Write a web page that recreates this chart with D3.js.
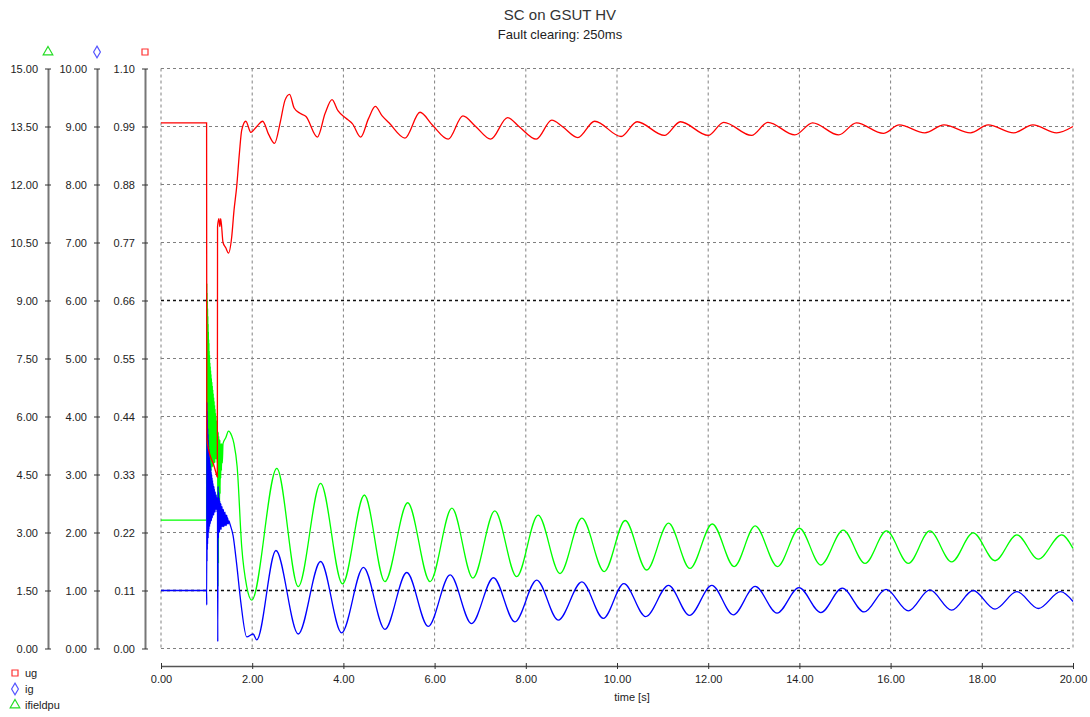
<!DOCTYPE html>
<html>
<head>
<meta charset="utf-8">
<script src="https://cdn.jsdelivr.net/npm/d3@7"></script>
<style>
  body { margin: 0; background: #fff; }
  svg { display: block; font-family: "Liberation Sans", Arial, sans-serif; }
  .tick text { font-size: 11px; fill: #222; }
</style>
</head>
<body>
<svg width="1090" height="717"></svg>
<script>
// time ticks and the three left axes
const timeTicks = [0, 2, 4, 6, 8, 10, 12, 14, 16, 18, 20]
const ifieldTicks = [0, 1.5, 3, 4.5, 6, 7.5, 9, 10.5, 12, 13.5, 15]
const igTicks = [0, 1, 2, 3, 4, 5, 6, 7, 8, 9, 10]
const ugTicks = [0, 0.11, 0.22, 0.33, 0.44, 0.55, 0.66, 0.77, 0.88, 0.99, 1.10]

// ug [p.u.] (red axis)
const ug = [
  [0, 0.997], [1.0, 0.997], [1.004, 0.40], [1.05, 0.375], [1.10, 0.36], [1.15, 0.35], [1.20, 0.335],
  [1.235, 0.325], [1.24, 0.80], [1.27, 0.815], [1.29, 0.80], [1.31, 0.815], [1.36, 0.77], [1.42, 0.76],
  [1.48, 0.75], [1.55, 0.78], [1.60, 0.83], [1.66, 0.876], [1.72, 0.94], [1.77, 0.983], [1.86, 1.0],
  [1.97, 0.979], [2.10, 0.99], [2.23, 1.0], [2.36, 0.975], [2.49, 0.958], [2.62, 1.0], [2.72, 1.04],
  [2.82, 1.051], [2.92, 1.025], [3.05, 1.015], [3.18, 1.009], [3.43, 0.97], [3.60, 1.015], [3.75, 1.041],
  [3.88, 1.02], [4.05, 1.006], [4.20, 0.995], [4.38, 0.97], [4.55, 1.005], [4.70, 1.028], [4.85, 1.01],
  [5.0, 0.997], [5.35, 0.968], [5.68, 1.017], [5.95, 0.993], [6.30, 0.966], [6.62, 1.01], [6.90, 0.99],
  [7.23, 0.966], [7.60, 1.007], [7.85, 0.99], [8.23, 0.966], [8.57, 1.002], [8.80, 0.99], [9.14, 0.969],
  [9.51, 1.0], [10.09, 0.971], [10.44, 0.999], [11.04, 0.973], [11.39, 0.999], [12.0, 0.973],
  [12.34, 0.998], [12.95, 0.973], [13.31, 0.998], [13.90, 0.974], [14.29, 0.997], [14.86, 0.974],
  [15.25, 0.997], [15.84, 0.977], [16.19, 0.993], [16.75, 0.978], [17.17, 0.993], [17.75, 0.978],
  [18.14, 0.993], [18.70, 0.978], [19.12, 0.993], [19.64, 0.978], [20.0, 0.99]
]

// ig [p.u.] (blue axis)
const ig = [
  [0, 1.0], [1.0, 1.0], [1.003, 0.75], [1.006, 4.25], [1.009, 1.5], [1.012, 4.1], [1.015, 1.7],
  [1.018, 3.95], [1.021, 1.8], [1.024, 3.8], [1.027, 1.9], [1.030, 3.7], [1.033, 1.9], [1.036, 3.6],
  [1.039, 2.0], [1.042, 3.5], [1.045, 2.0], [1.048, 3.45], [1.051, 2.05], [1.054, 3.4], [1.057, 2.1],
  [1.060, 3.3], [1.064, 2.1], [1.068, 3.25], [1.072, 2.15], [1.076, 3.2], [1.080, 2.15], [1.084, 3.15],
  [1.088, 2.2], [1.092, 3.1], [1.096, 2.2], [1.100, 3.05], [1.105, 2.2], [1.110, 3.0], [1.115, 2.25],
  [1.120, 2.95], [1.125, 2.25], [1.130, 2.9], [1.135, 2.3], [1.140, 2.85], [1.145, 2.3], [1.150, 2.8],
  [1.155, 2.3], [1.160, 2.8], [1.165, 2.35], [1.170, 2.75], [1.175, 2.35], [1.180, 2.7], [1.185, 2.35],
  [1.190, 2.7], [1.195, 2.4], [1.200, 2.65], [1.206, 2.4], [1.212, 2.65], [1.218, 2.4], [1.224, 2.6],
  [1.230, 2.35], [1.238, 2.6], [1.245, 0.12], [1.252, 2.8], [1.258, 1.9], [1.264, 2.7], [1.270, 2.0],
  [1.276, 2.6], [1.282, 2.0], [1.288, 2.55], [1.294, 2.05], [1.300, 2.5], [1.306, 2.05], [1.312, 2.5],
  [1.318, 2.05], [1.324, 2.45], [1.330, 2.1], [1.338, 2.45], [1.346, 2.1], [1.354, 2.4], [1.362, 2.1],
  [1.370, 2.4], [1.378, 2.1], [1.386, 2.35], [1.395, 2.12], [1.404, 2.35], [1.413, 2.12], [1.422, 2.3],
  [1.432, 2.12], [1.442, 2.3], [1.452, 2.15], [1.462, 2.25], [1.475, 2.15], [1.49, 2.2], [1.51, 2.15],
  [1.58, 1.95], [1.66, 1.45], [1.75, 0.8], [1.88, 0.2], [2.02, 0.25], [2.10, 0.15], [2.52, 1.69],
  [3.01, 0.25], [3.50, 1.50], [3.96, 0.27], [4.44, 1.40], [4.91, 0.33], [5.39, 1.31], [5.86, 0.38],
  [6.34, 1.27], [6.81, 0.43], [7.29, 1.22], [7.76, 0.46], [8.24, 1.18], [8.71, 0.49], [9.23, 1.15],
  [9.70, 0.52], [10.15, 1.12], [10.63, 0.55], [11.13, 1.09], [11.59, 0.57], [12.08, 1.09], [12.55, 0.58],
  [13.03, 1.07], [13.51, 0.61], [13.99, 1.05], [14.47, 0.62], [14.94, 1.04], [15.42, 0.63],
  [15.90, 1.02], [16.39, 0.65], [16.86, 1.01], [17.34, 0.66], [17.81, 1.00], [18.29, 0.68],
  [18.77, 0.98], [19.24, 0.69], [19.73, 0.98], [20.0, 0.81]
]

// ifieldpu (green axis)
const ifield = [
  [0, 3.32], [1.0, 3.32], [1.003, 9.45], [1.006, 4.5], [1.009, 9.2], [1.012, 4.4], [1.015, 9.0],
  [1.018, 4.5], [1.021, 8.8], [1.024, 4.4], [1.027, 8.6], [1.030, 4.5], [1.033, 8.4], [1.036, 4.5],
  [1.039, 8.2], [1.042, 4.5], [1.045, 8.0], [1.048, 4.6], [1.051, 7.9], [1.054, 4.5], [1.057, 7.7],
  [1.060, 4.6], [1.064, 7.6], [1.068, 4.5], [1.072, 7.4], [1.076, 4.6], [1.080, 7.3], [1.084, 4.6],
  [1.088, 7.2], [1.092, 4.6], [1.096, 7.1], [1.100, 4.6], [1.105, 7.0], [1.110, 4.7], [1.115, 6.9],
  [1.120, 4.7], [1.125, 6.8], [1.130, 4.7], [1.135, 6.7], [1.140, 4.7], [1.145, 6.6], [1.150, 4.8],
  [1.155, 6.5], [1.160, 4.8], [1.165, 6.4], [1.170, 4.8], [1.175, 6.3], [1.180, 4.8], [1.185, 6.2],
  [1.190, 4.9], [1.195, 6.1], [1.200, 4.9], [1.206, 6.0], [1.212, 4.9], [1.218, 5.9], [1.224, 4.9],
  [1.230, 5.8], [1.236, 4.8], [1.242, 5.6], [1.248, 1.6], [1.254, 5.6], [1.260, 2.2], [1.266, 5.5],
  [1.272, 3.0], [1.278, 5.4], [1.284, 3.6], [1.290, 5.4], [1.296, 4.0], [1.302, 5.3], [1.310, 4.4],
  [1.318, 5.3], [1.326, 4.6], [1.334, 5.3], [1.345, 4.8], [1.36, 5.3], [1.42, 5.45], [1.48, 5.62],
  [1.55, 5.5], [1.60, 5.3], [1.67, 4.7], [1.77, 2.63], [1.88, 1.6], [1.99, 1.25], [2.54, 4.66],
  [3.01, 1.60], [3.50, 4.27], [3.98, 1.67], [4.46, 3.97], [4.91, 1.73], [5.41, 3.77], [5.90, 1.73],
  [6.38, 3.63], [6.84, 1.82], [7.32, 3.56], [7.80, 1.86], [8.27, 3.45], [8.75, 1.94], [9.23, 3.37],
  [9.72, 1.99], [10.18, 3.31], [10.65, 2.03], [11.13, 3.24], [11.60, 2.07], [12.09, 3.22], [12.57, 2.12],
  [13.03, 3.17], [13.52, 2.12], [14.0, 3.11], [14.47, 2.16], [14.96, 3.06], [15.44, 2.20], [15.91, 3.04],
  [16.39, 2.20], [16.86, 3.04], [17.34, 2.24], [17.81, 2.99], [18.29, 2.27], [18.77, 2.94], [19.24, 2.31],
  [19.75, 2.94], [20.0, 2.59]
]

const svg = d3.select('svg')

const plotLeft = 161
const plotRight = 1073
const plotTop = 68.5
const plotBottom = 648.5

const x = d3.scaleLinear().domain([0, 20]).range([plotLeft, plotRight])
const yField = d3.scaleLinear().domain([0, 15]).range([plotBottom, plotTop])
const yIg = d3.scaleLinear().domain([0, 10]).range([plotBottom, plotTop])
const yUg = d3.scaleLinear().domain([0, 1.1]).range([plotBottom, plotTop])

// title
svg.append('text')
  .attr('x', 560).attr('y', 20)
  .attr('text-anchor', 'middle')
  .style('font-size', '15px').style('fill', '#333')
  .text('SC on GSUT HV')
svg.append('text')
  .attr('x', 560).attr('y', 39)
  .attr('text-anchor', 'middle')
  .style('font-size', '13px').style('fill', '#222')
  .text('Fault clearing: 250ms')

// grid
const grid = svg.append('g')
grid.selectAll('.vgrid')
  .data(timeTicks)
  .enter().append('line')
  .attr('x1', d => x(d)).attr('x2', d => x(d))
  .attr('y1', plotTop).attr('y2', plotBottom)
  .style('stroke', '#808080').style('stroke-dasharray', '3,3')
grid.selectAll('.hgrid')
  .data(ifieldTicks)
  .enter().append('line')
  .attr('x1', plotLeft).attr('x2', plotRight)
  .attr('y1', d => yField(d)).attr('y2', d => yField(d))
  .style('stroke', d => (d === 9 || d === 1.5) ? '#111' : '#808080')
  .style('stroke-width', d => (d === 9 || d === 1.5) ? 1.3 : 1)
  .style('stroke-dasharray', '3,3')

// left axes
const leftAxes = [
  { scale: yField, ticks: ifieldTicks, pos: 48, color: '#22dd22', symbol: d3.symbolTriangle },
  { scale: yIg, ticks: igTicks, pos: 97, color: '#5555ff', symbol: d3.symbolDiamond },
  { scale: yUg, ticks: ugTicks, pos: 145, color: '#ff3333', symbol: d3.symbolSquare }
]

leftAxes.forEach(a => {
  const axisG = svg.append('g')
    .attr('class', 'y axis')
    .attr('transform', `translate(${a.pos}, 0)`)
    .call(d3.axisLeft(a.scale)
      .tickValues(a.ticks)
      .tickFormat(d3.format('.2f'))
      .tickSize(0)
      .tickSizeOuter(0)
      .tickPadding(10))
  axisG.select('.domain')
    .style('stroke', '#777').style('stroke-width', 2)
  axisG.selectAll('.tick')
    .append('line')
    .attr('x1', -3).attr('x2', 3)
    .style('stroke', '#333')
  svg.append('path')
    .attr('transform', `translate(${a.pos}, 52)`)
    .attr('d', d3.symbol().type(a.symbol).size(a.symbol === d3.symbolSquare ? 36 : 40)())
    .style('fill', 'none').style('stroke', a.color).style('stroke-width', 1.2)
})

// time axis
const xAxisG = svg.append('g')
  .attr('class', 'x axis')
  .attr('transform', 'translate(0, 666)')
  .call(d3.axisBottom(x)
    .tickValues(timeTicks)
    .tickFormat(d3.format('.2f'))
    .tickSize(0)
    .tickSizeOuter(0)
    .tickPadding(9))
xAxisG.select('.domain')
  .style('stroke', '#555').style('stroke-width', 1.5)
xAxisG.selectAll('.tick')
  .append('line')
  .attr('y1', -3).attr('y2', 3)
  .style('stroke', '#333')

svg.append('text')
  .attr('x', 632).attr('y', 701)
  .attr('text-anchor', 'middle')
  .style('font-size', '11px').style('fill', '#222')
  .text('time [s]')

// curves
const series = [
  { name: 'ifieldpu', data: ifield, y: yField, color: '#00ff00' },
  { name: 'ig', data: ig, y: yIg, color: '#0000ff' },
  { name: 'ug', data: ug, y: yUg, color: '#ff0000' }
]

series.forEach(s => {
  const line = d3.line()
    .x(d => x(d[0]))
    .y(d => s.y(d[1]))
    .curve(d3.curveMonotoneX)
  svg.append('path')
    .datum(s.data)
    .attr('d', line)
    .style('fill', 'none')
    .style('stroke', s.color)
    .style('stroke-width', 1.3)
})

// legend
const legendItems = [
  { name: 'ug', color: '#ff3333', symbol: d3.symbolSquare, y: 673 },
  { name: 'ig', color: '#5555ff', symbol: d3.symbolDiamond, y: 689 },
  { name: 'ifieldpu', color: '#22dd22', symbol: d3.symbolTriangle, y: 705 }
]
const legend = svg.selectAll('.legend')
  .data(legendItems)
  .enter().append('g')
  .attr('transform', d => `translate(15, ${d.y})`)
legend.append('path')
  .attr('d', d => d3.symbol().type(d.symbol).size(d.symbol === d3.symbolSquare ? 36 : 40)())
  .style('fill', 'none')
  .style('stroke', d => d.color)
  .style('stroke-width', 1.2)
legend.append('text')
  .attr('x', 10).attr('dy', '0.35em')
  .style('font-size', '11px').style('fill', '#222')
  .text(d => d.name)
</script>
</body>
</html>
